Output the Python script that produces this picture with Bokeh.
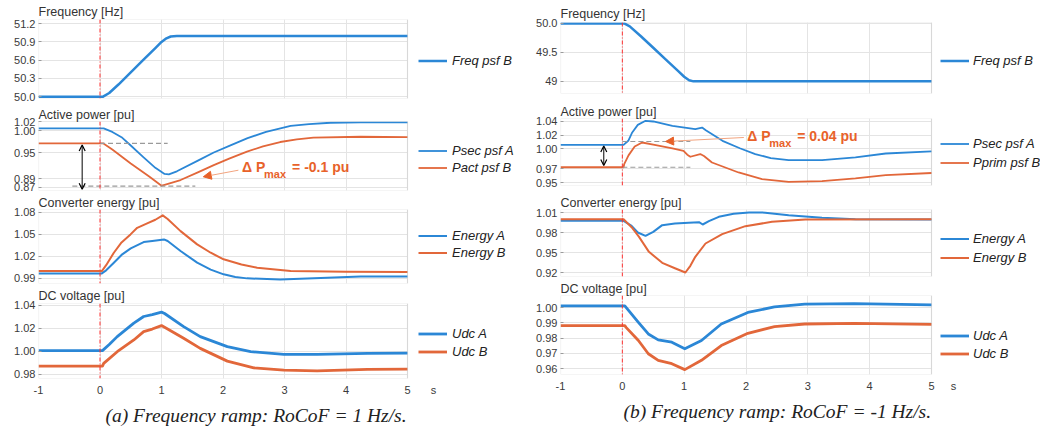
from bokeh.plotting import figure
from bokeh.layouts import row, column
from bokeh.models import (Range1d, FixedTicker, Legend, LegendItem, Span, Arrow,
                          OpenHead, NormalHead, Label, Title, BoxAnnotation)
from bokeh.embed import file_html
from bokeh.resources import INLINE

BLUE = "#2b87d6"
ORANGE = "#e2673a"
NOTE = "#e8622a"
SANS = "Liberation Sans"
SERIF = "Liberation Serif"

t_ticks = [-1, 0, 1, 2, 3, 4, 5]
t_min, t_max = -1, 5

# ---------------- (a) frequency ramp, RoCoF = +1 Hz/s ----------------
a_freq_t = [-1, 0.05, 0.15, 0.3, 0.5, 0.7, 0.9, 1.0, 1.08, 1.15, 1.25, 5]
a_freq = [50.0, 50.0, 50.06, 50.2, 50.4, 50.6, 50.8, 50.9, 50.96, 50.99, 51.0, 51.0]

a_psec_t = [-1, 0.06, 0.2, 0.35, 0.5, 0.7, 0.9, 1.05, 1.12, 1.25, 1.6, 1.85, 2.15, 2.4,
            2.7, 3.1, 3.4, 3.75, 4.24, 5]
a_psec = [1.005, 1.005, 0.997, 0.985, 0.966, 0.940, 0.915, 0.901, 0.900, 0.907, 0.932,
          0.950, 0.968, 0.983, 0.997, 1.011, 1.015, 1.018, 1.019, 1.019]

a_pact_t = [-1, 0.05, 0.2, 0.5, 0.8, 1.0, 1.05, 1.31, 1.6, 1.85, 2.1, 2.39, 2.65, 2.93,
            3.2, 3.47, 4.24, 5]
a_pact = [0.971, 0.971, 0.957, 0.925, 0.895, 0.874, 0.876, 0.887, 0.905, 0.921, 0.936,
          0.952, 0.964, 0.974, 0.980, 0.984, 0.986, 0.985]

a_enA_t = [-1, 0.03, 0.1, 0.225, 0.35, 0.5, 0.71, 0.85, 1.04, 1.1, 1.31, 1.58, 1.8, 2.01,
           2.2, 2.39, 2.93, 3.48, 4.24, 5]
a_enA = [0.9968, 0.9968, 1.001, 1.0114, 1.022, 1.031, 1.0395, 1.041, 1.0432, 1.041, 1.0273,
         1.0114, 1.002, 0.9955, 0.992, 0.990, 0.9886, 0.990, 0.9927, 0.9927]

a_enB_t = [-1, 0.03, 0.1, 0.225, 0.35, 0.496, 0.605, 0.767, 0.9, 1.02, 1.1, 1.31, 1.58,
           1.8, 2.01, 2.3, 2.555, 3.1, 4.0, 5]
a_enB = [1.000, 1.000, 1.008, 1.025, 1.039, 1.050, 1.059, 1.065, 1.070, 1.076, 1.071,
         1.0545, 1.0364, 1.025, 1.016, 1.009, 1.0046, 1.000, 0.999, 0.9986]

a_udcA_t = [-1, 0.04, 0.15, 0.28, 0.55, 0.71, 0.85, 1.0, 1.05, 1.36, 1.63, 2.07, 2.45,
            2.99, 3.53, 4.35, 5]
a_udcA = [1.0007, 1.0007, 1.006, 1.0129, 1.0246, 1.0304, 1.032, 1.0342, 1.033, 1.0216,
          1.0129, 1.0042, 0.9998, 0.9975, 0.9975, 0.9983, 0.9986]

a_udcB_t = [-1, 0.04, 0.06, 0.28, 0.55, 0.71, 0.85, 1.0, 1.05, 1.36, 1.63, 2.07, 2.5,
            2.99, 3.53, 4.35, 5]
a_udcB = [0.9873, 0.9873, 0.9896, 0.9998, 1.010, 1.0173, 1.0195, 1.0225, 1.021, 1.0115,
          1.0027, 0.9916, 0.9858, 0.9838, 0.9832, 0.9844, 0.9847]

# reference levels and the power deviation marker
a_ref_t0 = [0.0, -0.45]
a_ref_t1 = [1.1, 1.55]
a_ref_lv = [0.971, 0.873]
a_dp_t = -0.29
a_dp_lo, a_dp_hi = 0.866, 0.967
a_dp_value = "-0.1"

# ---------------- (b) frequency ramp, RoCoF = -1 Hz/s ----------------
b_freq_t = [-1, 0.03, 0.12, 0.3, 0.5, 0.7, 0.9, 1.0, 1.08, 1.15, 1.25, 5]
b_freq = [50.0, 50.0, 49.95, 49.78, 49.58, 49.38, 49.18, 49.08, 49.02, 49.0, 49.0, 49.0]

b_psec_t = [-1, 0.02, 0.1, 0.16, 0.25, 0.375, 0.5, 0.81, 1.18, 1.29, 1.35, 1.62, 1.9,
            2.15, 2.4, 2.69, 3.23, 3.77, 4.26, 5]
b_psec = [1.0056, 1.0056, 1.012, 1.0238, 1.035, 1.041, 1.040, 1.0336, 1.0287, 1.031,
          1.027, 1.0115, 1.0005, 0.992, 0.986, 0.983, 0.983, 0.987, 0.9928, 0.996]

b_pprim_t = [-1, 0.02, 0.03, 0.1, 0.2, 0.32, 0.5, 0.81, 0.99, 1.05, 1.1, 1.26, 1.32, 1.45,
             1.88, 2.26, 2.69, 3.23, 3.77, 4.26, 5]
b_pprim = [0.9725, 0.9725, 0.977, 0.990, 1.003, 1.009, 1.006, 1.0002, 0.9968, 0.991,
           0.988, 0.992, 0.989, 0.9795, 0.9648, 0.955, 0.951, 0.952, 0.956, 0.9608, 0.964]

b_enA_t = [-1, 0.02, 0.15, 0.25, 0.375, 0.5, 0.645, 0.85, 1.075, 1.24, 1.30, 1.4, 1.56,
           1.8, 2.05, 2.31, 2.69, 3.23, 3.77, 5]
b_enA = [0.9975, 0.9975, 0.990, 0.980, 0.975, 0.981, 0.991, 0.9935, 0.9945, 0.9955, 0.992,
         0.997, 1.0035, 1.008, 1.010, 1.0098, 1.006, 1.002, 1.000, 0.9995]

b_enB_t = [-1, 0.02, 0.15, 0.27, 0.43, 0.645, 0.86, 1.02, 1.1, 1.18, 1.345, 1.615, 1.99,
           2.42, 2.96, 5]
b_enB = [1.000, 1.000, 0.988, 0.9735, 0.951, 0.9345, 0.926, 0.920, 0.930, 0.9435, 0.9635,
         0.9775, 0.9895, 0.996, 0.9995, 1.000]

b_udcA_t = [-1, 0.04, 0.26, 0.42, 0.58, 0.8, 1.01, 1.28, 1.6, 2.03, 2.46, 2.95, 3.75, 5]
b_udcA = [1.0011, 1.0011, 0.9903, 0.9827, 0.9788, 0.9773, 0.973, 0.9784, 0.9892, 0.9968,
          1.0004, 1.0022, 1.0026, 1.0017]

b_udcB_t = [-1, 0.04, 0.06, 0.26, 0.42, 0.58, 0.8, 1.01, 1.28, 1.6, 2.03, 2.46, 2.95,
            3.75, 5]
b_udcB = [0.9881, 0.9881, 0.987, 0.9784, 0.9697, 0.9654, 0.9632, 0.9593, 0.9654, 0.9751,
          0.9831, 0.9875, 0.9892, 0.9896, 0.989]

b_ref_t0 = [0.0, 0.0]
b_ref_t1 = [1.1, 1.1]
b_ref_lv = [1.0105, 0.9725]
b_dp_t = -0.30
b_dp_lo, b_dp_hi = 0.975, 1.004
b_dp_value = "0.04"

# tick values and labels of the y axes
a_freq_ticks = [50.0, 50.3, 50.6, 50.9, 51.2]
a_p_ticks = [0.87, 0.89, 0.95, 1.00, 1.02]
a_en_ticks = [0.99, 1.02, 1.05, 1.08]
a_udc_ticks = [0.98, 1.00, 1.02, 1.04]
b_freq_ticks = [49.0, 49.5, 50.0]
b_freq_labels = ["49", "49.5", "50.0"]
b_p_ticks = [0.95, 0.97, 1.00, 1.02, 1.04]
b_en_ticks = [0.92, 0.95, 0.98, 1.01]
b_udc_ticks = [0.96, 0.97, 0.98, 0.99, 1.00]

captions = ["(a) Frequency ramp: RoCoF = 1 Hz/s.", "(b) Frequency ramp: RoCoF = -1 Hz/s."]
time_unit = "s"

# geometry of the two columns (pixels): the frame also hosts the legend area,
# the axes box itself covers t = -1 .. 5 over `box` pixels
GEO_A = dict(left=38, fw=482, box=369, leg_x=380, leg_std=5, cap_off=67, unit_px=395)
GEO_B = dict(left=40, fw=480, box=371, leg_x=380, leg_std=4, cap_off=63, unit_px=393)


def panel(geo, title, yr, ticks, labels, series, top, fh, bottom, leg_centers,
          frame_top, title_gap=0, last=False, caption=None):
    px_per_s = geo["box"] / (t_max - t_min)
    x_hi = t_min + geo["fw"] / px_per_s
    p = figure(frame_width=geo["fw"], frame_height=fh,
               x_range=Range1d(t_min, x_hi), y_range=Range1d(*yr),
               min_border_left=geo["left"], min_border_right=0,
               min_border_top=top, min_border_bottom=bottom,
               output_backend="svg", toolbar_location=None,
               background_fill_color="white", border_fill_color="white")
    p.title.text = title
    p.title.align = "left"
    p.title.text_font = SANS
    p.title.text_font_size = "12.5px"
    p.title.text_font_style = "normal"
    p.title.text_color = "#333333"
    p.title.standoff = title_gap
    p.title.offset = 0

    # axes box limited to the time span
    p.outline_line_color = None
    p.add_layout(BoxAnnotation(left=t_min, right=t_max, bottom=yr[0], top=yr[1],
                               fill_alpha=0, line_color="#bdbdbd", line_width=1.2))

    p.xgrid.ticker = FixedTicker(ticks=t_ticks)
    p.ygrid.ticker = FixedTicker(ticks=ticks)
    p.ygrid.cross_bounds = (t_min, t_max)
    for g in (p.xgrid, p.ygrid):
        g.grid_line_color = "#e4e4e4"
        g.grid_line_width = 1

    ya = p.yaxis[0]
    ya.ticker = FixedTicker(ticks=ticks)
    ya.major_label_overrides = {v: s for v, s in zip(ticks, labels)}
    ya.axis_line_color = None
    ya.major_tick_in = 3
    ya.major_tick_out = 0
    ya.major_tick_line_color = "#9a9a9a"
    ya.minor_tick_line_color = None
    ya.major_label_standoff = 3
    ya.major_label_text_font = SANS
    ya.major_label_text_font_size = "11px"
    ya.major_label_text_color = "#3a3a3a"

    xa = p.xaxis[0]
    if last:
        # time ticks plus the unit written after the last tick
        unit_t = t_min + geo["unit_px"] / px_per_s
        xa.ticker = FixedTicker(ticks=t_ticks + [unit_t])
        overrides = {t: str(t) for t in t_ticks}
        overrides[unit_t] = time_unit
        xa.major_label_overrides = overrides
        xa.axis_line_color = None
        xa.major_tick_line_color = None
        xa.minor_tick_line_color = None
        xa.major_label_standoff = -1
        xa.major_label_text_font = SANS
        xa.major_label_text_font_size = "11px"
        xa.major_label_text_color = "#3a3a3a"
    else:
        xa.visible = False

    p.add_layout(Span(location=0, dimension="height", line_color="#ff3030",
                      line_width=1, line_dash="4 2 1 2"))

    items = []
    for t, v, color, width, label in series:
        r = p.line(t, v, line_color=color, line_width=width, line_join="round")
        items.append(LegendItem(label=label, renderers=[r]))

    lh = 15
    spacing = (leg_centers[1] - leg_centers[0] - lh) if len(leg_centers) > 1 else 2
    frame_bottom = frame_top + fh
    vy = frame_bottom - (leg_centers[-1] + lh / 2)
    legend = Legend(items=items, location=(geo["leg_x"], vy),
                    padding=0, margin=0, spacing=spacing, label_height=lh,
                    glyph_height=lh, glyph_width=29, label_standoff=geo["leg_std"],
                    label_text_font=SANS, label_text_font_style="italic",
                    label_text_font_size="13px", label_text_color="#222222",
                    background_fill_alpha=0, border_line_color=None)
    p.add_layout(legend)

    if last:
        p.add_layout(Title(text=caption, align="left", offset=geo["cap_off"],
                           standoff=9, text_font=SERIF, text_font_style="italic",
                           text_font_size="19.5px", text_color="#222222"), "below")
    return p


def delta_note(p, t, lo, hi, ref_t0, ref_t1, ref_lv, txt_t, txt_v, tail, head, value):
    p.segment(x0=ref_t0, y0=ref_lv, x1=ref_t1, y1=ref_lv, line_color="#9a9a9a",
              line_width=1.2, line_dash="5 3")
    p.add_layout(Arrow(x_start=t, y_start=lo, x_end=t, y_end=hi, line_color="black",
                       line_width=1,
                       start=OpenHead(size=6, line_color="black", line_width=1.2),
                       end=OpenHead(size=6, line_color="black", line_width=1.2)))
    p.add_layout(Arrow(x_start=tail[0], y_start=tail[1], x_end=head[0], y_end=head[1],
                       line_color="#f2a47f", line_width=1,
                       end=NormalHead(size=8, fill_color=NOTE, line_color=NOTE)))
    common = dict(x=txt_t, y=txt_v, text_font=SANS, text_font_style="bold",
                  text_color=NOTE, text_baseline="middle")
    p.add_layout(Label(text="\u0394 P", text_font_size="14px", **common))
    p.add_layout(Label(text="max", text_font_size="11px", x_offset=22, y_offset=-7,
                       **common))
    p.add_layout(Label(text="= " + value + " pu", text_font_size="14px", x_offset=50,
                       **common))


# ---------- column (a) ----------
a1 = panel(GEO_A, "Frequency [Hz]", (49.97, 51.27), a_freq_ticks,
           ["%.1f" % v for v in a_freq_ticks],
           [(a_freq_t, a_freq, BLUE, 2.5, "Freq psf B")],
           top=19, fh=79, bottom=6, leg_centers=[60], frame_top=19, title_gap=2)
a2 = panel(GEO_A, "Active power [pu]", (0.8631, 1.0209), a_p_ticks,
           ["%.2f" % v for v in a_p_ticks],
           [(a_psec_t, a_psec, BLUE, 1.8, "Psec psf A"),
            (a_pact_t, a_pact, ORANGE, 1.8, "Pact psf B")],
           top=17, fh=69, bottom=2, leg_centers=[149, 166], frame_top=120)
delta_note(a2, a_dp_t, a_dp_lo, a_dp_hi, a_ref_t0, a_ref_t1, a_ref_lv,
           2.31, 0.9173, (2.25, 0.9095), (1.68, 0.8945), a_dp_value)
a3 = panel(GEO_A, "Converter energy [pu]", (0.983, 1.084), a_en_ticks,
           ["%.2f" % v for v in a_en_ticks],
           [(a_enA_t, a_enA, BLUE, 2.0, "Energy A"),
            (a_enB_t, a_enB, ORANGE, 2.0, "Energy B")],
           top=17, fh=74, bottom=2, leg_centers=[234, 251], frame_top=208)
a4 = panel(GEO_A, "DC voltage [pu]", (0.9765, 1.0417), a_udc_ticks,
           ["%.2f" % v for v in a_udc_ticks],
           [(a_udcA_t, a_udcA, BLUE, 2.8, "Udc A"),
            (a_udcB_t, a_udcB, ORANGE, 2.8, "Udc B")],
           top=18, fh=75, bottom=58, leg_centers=[332, 350], frame_top=302,
           title_gap=1, last=True, caption=captions[0])

# ---------- column (b) ----------
b1 = panel(GEO_B, "Frequency [Hz]", (48.79, 50.017), b_freq_ticks, b_freq_labels,
           [(b_freq_t, b_freq, BLUE, 2.5, "Freq psf B")],
           top=22, fh=71, bottom=8, leg_centers=[60], frame_top=22, title_gap=3)
b2 = panel(GEO_B, "Active power [pu]", (0.9456, 1.0444), b_p_ticks,
           ["%.2f" % v for v in b_p_ticks],
           [(b_psec_t, b_psec, BLUE, 1.8, "Psec psf A"),
            (b_pprim_t, b_pprim, ORANGE, 1.8, "Pprim psf B")],
           top=17, fh=67, bottom=7, leg_centers=[143, 162], frame_top=118)
delta_note(b2, b_dp_t, b_dp_lo, b_dp_hi, b_ref_t0, b_ref_t1, b_ref_lv,
           2.02, 1.0189, (1.965, 1.0164), (0.70, 1.0105), b_dp_value)
b3 = panel(GEO_B, "Converter energy [pu]", (0.914, 1.0145), b_en_ticks,
           ["%.2f" % v for v in b_en_ticks],
           [(b_enA_t, b_enA, BLUE, 2.0, "Energy A"),
            (b_enB_t, b_enB, ORANGE, 2.0, "Energy B")],
           top=17, fh=67, bottom=2, leg_centers=[238, 257], frame_top=209)
b4 = panel(GEO_B, "DC voltage [pu]", (0.9561, 1.0079), b_udc_ticks,
           ["%.2f" % v for v in b_udc_ticks],
           [(b_udcA_t, b_udcA, BLUE, 2.8, "Udc A"),
            (b_udcB_t, b_udcB, ORANGE, 2.8, "Udc B")],
           top=17, fh=79, bottom=61, leg_centers=[335, 353], frame_top=295,
           last=True, caption=captions[1])

layout = row(column(a1, a2, a3, a4, spacing=0), column(b1, b2, b3, b4, spacing=0),
             spacing=0)

with open("out.html", "w") as f:
    f.write(file_html(layout, INLINE))
